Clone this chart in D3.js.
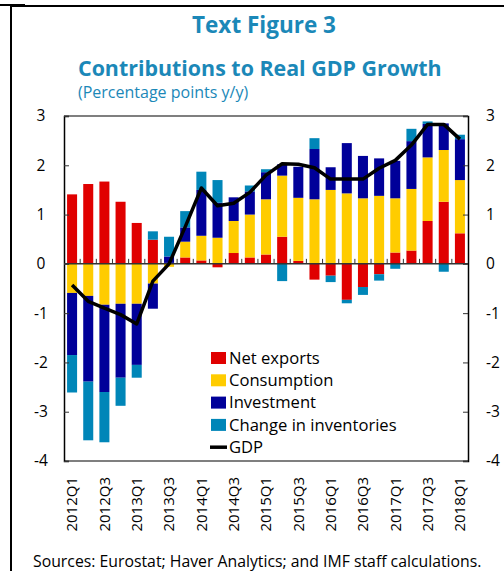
<!DOCTYPE html>
<html>
<head>
<meta charset="utf-8">
<script src="https://cdn.jsdelivr.net/npm/d3@7"></script>
<style>
  body { margin: 0; background: #fff; }
  svg { display: block; font-family: "Open Sans", "Noto Sans", sans-serif; }
</style>
</head>
<body>
<div id="chart"></div>
<script>
// quarters 2012Q1 .. 2018Q1
var quarters = ["2012Q1","2012Q2","2012Q3","2012Q4","2013Q1","2013Q2","2013Q3","2013Q4",
  "2014Q1","2014Q2","2014Q3","2014Q4","2015Q1","2015Q2","2015Q3","2015Q4",
  "2016Q1","2016Q2","2016Q3","2016Q4","2017Q1","2017Q2","2017Q3","2017Q4","2018Q1"];

var netExports = [1.41, 1.62, 1.67, 1.26, 0.83, 0.49, 0.02, 0.13, 0.07, -0.07, 0.22, 0.13, 0.19,
  0.55, 0.06, -0.32, -0.24, -0.73, -0.47, -0.21, 0.23, 0.27, 0.87, 1.26, 0.62];
var consumption = [-0.59, -0.65, -0.83, -0.81, -0.81, -0.40, -0.06, 0.32, 0.50, 0.53, 0.65, 0.87, 1.12,
  1.24, 1.28, 1.31, 1.50, 1.43, 1.33, 1.38, 1.10, 1.25, 1.29, 1.05, 1.08];
var investment = [-1.26, -1.74, -1.77, -1.50, -1.24, -0.51, 0.13, 0.29, 0.93, 0.71, 0.48, 0.47, 0.55,
  0.23, 0.63, 1.02, 0.46, 1.02, 0.86, 0.76, 0.76, 0.97, 0.68, 0.54, 0.83];
var inventories = [-0.76, -1.19, -1.02, -0.57, -0.26, 0.17, 0.40, 0.33, 0.37, 0.46, 0.00, 0.12, 0.06,
  -0.35, 0.00, 0.22, -0.13, -0.07, -0.16, -0.13, -0.10, 0.25, 0.05, -0.16, 0.09];
var gdp = [-0.43, -0.76, -0.90, -1.03, -1.22, -0.35, 0.00, 0.75, 1.54, 1.18, 1.23, 1.45, 1.80,
  2.03, 2.02, 1.95, 1.72, 1.72, 1.72, 1.94, 2.10, 2.41, 2.83, 2.83, 2.53];

var seriesNames = ["Net exports", "Consumption", "Investment", "Change in inventories"];
var seriesColors = ["#e00000", "#ffcc00", "#000099", "#0086b8"];
var yTicks = [-4, -3, -2, -1, 0, 1, 2, 3];

var W = 504, H = 571;
var plot = {left: 64, right: 468, top: 116, bottom: 461};
var titleColor = "#1b88b8";

var svg = d3.select("#chart").append("svg")
    .attr("width", W)
    .attr("height", H);

// outer frame (left + top)
svg.append("line").attr("x1", 11).attr("x2", 11).attr("y1", 5).attr("y2", H)
    .attr("stroke", "#000").attr("stroke-width", 2);
svg.append("line").attr("x1", 11).attr("x2", W).attr("y1", 6).attr("y2", 6)
    .attr("stroke", "#000").attr("stroke-width", 2);
svg.append("line").attr("x1", 0).attr("x2", 25).attr("y1", 5).attr("y2", 5)
    .attr("stroke", "#000").attr("stroke-width", 2);

// titles
svg.append("text").attr("x", 264).attr("y", 33)
    .attr("text-anchor", "middle").attr("font-weight", "bold").attr("font-size", 22.5)
    .attr("fill", titleColor).text("Text Figure 3");
svg.append("text").attr("x", 78).attr("y", 76)
    .attr("font-weight", "bold").attr("font-size", 21.4)
    .attr("fill", titleColor).text("Contributions to Real GDP Growth");
svg.append("text").attr("x", 78).attr("y", 98)
    .attr("font-size", 16).attr("fill", titleColor).text("(Percentage points y/y)");

var x = d3.scaleBand().domain(quarters).range([plot.left, plot.right]).paddingInner(0.38).paddingOuter(0.19);
var xb = d3.scaleBand().domain(quarters).range([plot.left, plot.right]);
var y = d3.scaleLinear().domain([-4, 3]).range([plot.bottom, plot.top]);

var rows = quarters.map(function(q, i) {
  return {q: q, ne: netExports[i], co: consumption[i], inv: investment[i], ch: inventories[i]};
});
var keys = ["ne", "co", "inv", "ch"];
var stack = d3.stack().keys(keys).offset(d3.stackOffsetDiverging)(rows);

var g = svg.append("g");
g.selectAll(".series")
    .data(stack)
    .enter().append("g")
    .attr("fill", function(d, i) { return seriesColors[i]; })
    .selectAll("rect")
    .data(function(d) { return d; })
    .enter().append("rect")
    .attr("x", function(d) { return x(d.data.q); })
    .attr("width", x.bandwidth())
    .attr("y", function(d) { return y(Math.max(d[0], d[1])); })
    .attr("height", function(d) { return Math.abs(y(d[0]) - y(d[1])); });

// plot border
svg.append("line").attr("x1", plot.left).attr("x2", plot.right).attr("y1", plot.top).attr("y2", plot.top)
    .attr("stroke", "#555").attr("stroke-width", 1.5);
svg.append("line").attr("x1", plot.left).attr("x2", plot.right).attr("y1", plot.bottom).attr("y2", plot.bottom)
    .attr("stroke", "#555").attr("stroke-width", 1.5);

// left + right axes
var yl = svg.append("g").attr("transform", "translate(" + plot.left + ",0)")
    .call(d3.axisRight(y).tickValues(yTicks).tickSize(5).tickFormat(""));
var yr = svg.append("g").attr("transform", "translate(" + plot.right + ",0)")
    .call(d3.axisLeft(y).tickValues(yTicks).tickSize(5).tickFormat(""));
[yl, yr].forEach(function(a) {
  a.select(".domain").attr("stroke", "#000").attr("stroke-width", 1.5);
  a.selectAll(".tick line").attr("stroke", "#333");
});

svg.selectAll(".ylab-l").data(yTicks).enter().append("text")
    .attr("x", 41).attr("y", function(d) { return y(d); }).attr("dy", "0.35em")
    .attr("text-anchor", "middle").attr("font-size", 15.5).attr("fill", "#000")
    .text(function(d) { return d; });
svg.selectAll(".ylab-r").data(yTicks).enter().append("text")
    .attr("x", 486).attr("y", function(d) { return y(d); }).attr("dy", "0.35em")
    .attr("text-anchor", "start").attr("font-size", 15.5).attr("fill", "#000")
    .text(function(d) { return d; });

// zero line with band ticks
svg.append("line").attr("x1", plot.left).attr("x2", plot.right).attr("y1", y(0)).attr("y2", y(0))
    .attr("stroke", "#333").attr("stroke-width", 1.5);
svg.selectAll(".xtick").data(quarters.slice(1)).enter().append("line")
    .attr("x1", function(d) { return xb(d); }).attr("x2", function(d) { return xb(d); })
    .attr("y1", y(0)).attr("y2", y(0) - 5)
    .attr("stroke", "#333").attr("stroke-width", 1);

// GDP line
var line = d3.line()
    .x(function(d, i) { return xb(quarters[i]) + xb.bandwidth() / 2; })
    .y(function(d) { return y(d); });
svg.append("path").datum(gdp)
    .attr("d", line).attr("fill", "none")
    .attr("stroke", "#000").attr("stroke-width", 3.5).attr("stroke-linejoin", "round");

// x labels (every other quarter)
svg.selectAll(".xlab").data(quarters.filter(function(d, i) { return i % 2 === 0; }))
    .enter().append("text")
    .attr("transform", function(d) {
      return "translate(" + (xb(d) + xb.bandwidth() / 2) + ",477) rotate(-90)";
    })
    .attr("dy", "0.35em").attr("text-anchor", "end")
    .attr("font-size", 15).attr("fill", "#000")
    .text(function(d) { return d; });

// legend
var lg = svg.append("g").attr("transform", "translate(211,358)");
seriesNames.forEach(function(name, i) {
  lg.append("rect").attr("x", 0).attr("y", i * 22.3 - 6).attr("width", 15).attr("height", 12)
      .attr("fill", seriesColors[i]);
  lg.append("text").attr("x", 18).attr("y", i * 22.3).attr("dy", "0.35em")
      .attr("font-size", 16.6).attr("fill", "#000").text(name);
});
lg.append("line").attr("x1", -1).attr("x2", 16).attr("y1", 4 * 22.3).attr("y2", 4 * 22.3)
    .attr("stroke", "#000").attr("stroke-width", 3.5);
lg.append("text").attr("x", 18).attr("y", 4 * 22.3).attr("dy", "0.35em")
    .attr("font-size", 16.6).attr("fill", "#000").text("GDP");

// source note
svg.append("text").attr("x", 33).attr("y", 567)
    .attr("font-size", 15.8).attr("fill", "#000")
    .text("Sources: Eurostat; Haver Analytics; and IMF staff calculations.");
</script>
</body>
</html>
